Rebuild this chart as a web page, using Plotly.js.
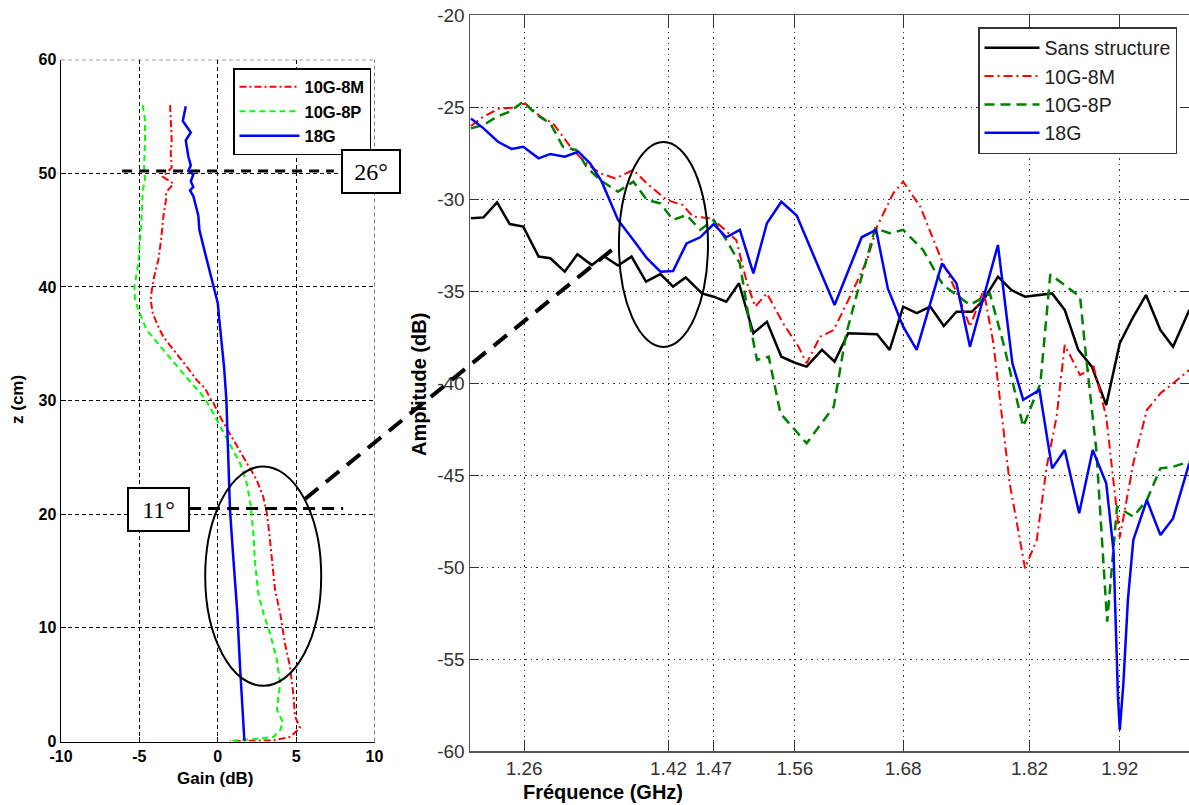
<!DOCTYPE html>
<html>
<head>
<meta charset="utf-8">
<script src="https://cdn.plot.ly/plotly-3.0.1.min.js"></script>
<style>html,body{margin:0;padding:0;background:#fff;}#chart{width:1189px;height:805px;}</style>
</head>
<body>
<div id="chart"></div>
<script>
// ---------- Left panel: z (cm) vs Gain (dB) ----------
const leftGain_8M = [-3.04,-3.0,-2.94,-3.0,-2.94,-3.5,-2.83,-3.3,-3.3,-3.47,-3.62,-3.79,-4.06,-4.21,-4.28,-4.15,-3.89,-3.47,-2.83,-1.98,-1.34,-0.81,-0.49,-0.28,0.26,1.0,1.85,2.49,2.91,3.13,3.29,3.45,3.66,3.98,4.29,4.61,4.82,4.93,5.25,4.61,3.55,1.42,0.78];
const leftZ_8M    = [56.0,54.1,52.9,51.8,50.5,49.7,49.1,48.3,47.7,46.2,44.1,42.4,40.9,39.7,38.9,37.7,36.8,35.6,34.5,33.0,31.8,31.1,30.2,29.8,28.3,26.5,24.5,23.0,21.5,20.1,18.3,16.0,13.3,11.3,8.6,6.6,4.2,2.2,1.2,0.4,0.1,0.05,0.05];
const leftGain_8P = [-4.79,-4.64,-4.64,-4.70,-4.64,-4.79,-4.85,-4.96,-5.07,-5.17,-5.32,-5.28,-5.07,-4.53,-3.68,-2.62,-1.66,-1.13,-0.70,-0.06,0.78,1.42,1.85,2.11,2.27,2.38,2.59,2.91,3.34,3.77,3.98,3.77,4.15,3.98,3.55,2.27,0.78];
const leftZ_8P    = [56.0,54.7,52.9,50.6,49.4,48.5,46.2,44.1,42.1,41.2,40.0,38.9,38.0,36.2,34.8,33.0,31.5,30.7,29.9,28.3,26.2,24.5,22.7,20.7,18.3,15.7,13.0,11.3,9.5,7.2,5.1,2.8,1.7,1.0,0.4,0.2,0.05];
const leftGain_18G = [-2.04,-2.23,-1.72,-2.04,-1.88,-1.72,-1.88,-1.56,-1.72,-1.56,-1.77,-1.56,-1.24,-1.17,-0.81,-0.49,-0.17,0,0.10,0.26,0.40,0.55,0.64,0.68,0.78,1.0,1.25,1.42,1.64,1.70];
const leftZ_18G    = [55.9,54.6,53.6,52.9,51.5,50.7,50.2,49.9,49.3,48.8,48.5,48.0,46.3,45.0,43.0,41.2,39.5,38.6,37.1,34.8,33.0,30.1,26.5,23.0,20.4,16.0,11.3,6.6,1.9,0.07];

// ---------- Right panel: Amplitude (dB) vs Fréquence (GHz) ----------
const freq_sans = [1.201,1.215,1.230,1.244,1.259,1.276,1.289,1.305,1.319,1.335,1.348,1.364,1.379,1.395,1.411,1.425,1.439,1.457,1.470,1.484,1.498,1.514,1.529,1.545,1.560,1.573,1.590,1.604,1.619,1.651,1.665,1.680,1.695,1.710,1.725,1.739,1.756,1.769,1.785,1.800,1.815,1.828,1.845,1.859,1.874,1.889,1.905,1.920,1.935,1.949,1.965,1.979,1.997];
const amp_sans  = [-31.05,-31.0,-30.18,-31.36,-31.5,-33.13,-33.22,-33.95,-33.0,-33.59,-33.10,-33.62,-33.13,-34.49,-34.08,-34.76,-34.26,-35.13,-35.31,-35.58,-34.58,-37.3,-36.67,-38.57,-38.9,-39.11,-38.2,-38.84,-37.3,-37.35,-38.2,-35.85,-36.2,-35.85,-36.9,-36.13,-36.13,-35.49,-34.22,-34.95,-35.31,-35.22,-35.13,-36.03,-38.2,-39.11,-41.2,-37.84,-36.4,-35.22,-37.12,-38.03,-36.03];
const freq_8M = [1.201,1.215,1.233,1.248,1.261,1.278,1.292,1.303,1.314,1.329,1.344,1.361,1.381,1.396,1.418,1.436,1.447,1.468,1.483,1.495,1.507,1.516,1.529,1.547,1.564,1.573,1.588,1.603,1.621,1.640,1.651,1.669,1.680,1.699,1.721,1.743,1.754,1.769,1.780,1.798,1.815,1.828,1.839,1.850,1.859,1.876,1.891,1.905,1.920,1.935,1.950,1.965,1.979,1.997];
const amp_8M  = [-26.03,-25.52,-25.07,-25.04,-24.8,-25.52,-25.89,-26.61,-27.34,-28.06,-28.6,-28.88,-28.42,-29.15,-30.05,-30.33,-30.96,-31.05,-31.68,-32.23,-34.58,-35.85,-35.13,-36.76,-38.03,-38.93,-37.48,-37.12,-35.31,-33.32,-31.5,-29.69,-29.06,-30.42,-33.13,-35.49,-36.94,-34.95,-37.84,-45.45,-50.07,-48.53,-44.55,-41.83,-37.93,-39.57,-39.11,-41.83,-48.4,-44.36,-41.47,-40.56,-40.02,-39.29];
const freq_8P = [1.201,1.215,1.230,1.244,1.259,1.274,1.289,1.303,1.318,1.329,1.344,1.364,1.381,1.396,1.411,1.425,1.440,1.455,1.470,1.484,1.499,1.510,1.518,1.531,1.544,1.573,1.603,1.617,1.632,1.649,1.665,1.680,1.702,1.724,1.754,1.776,1.791,1.813,1.832,1.843,1.876,1.883,1.894,1.906,1.917,1.935,1.950,1.965,1.979,1.997];
const amp_8P  = [-26.16,-25.98,-25.52,-25.25,-24.71,-25.43,-25.89,-27.16,-27.34,-28.24,-28.97,-29.6,-29.06,-30.05,-30.24,-31.14,-30.87,-31.68,-31.14,-32.23,-33.5,-36.76,-38.75,-38.57,-41.65,-43.28,-41.29,-37.3,-34.58,-31.59,-31.86,-31.68,-32.77,-34.67,-35.76,-35.13,-37.84,-42.37,-40.02,-34.1,-35.31,-38.75,-43.64,-52.97,-46.72,-47.27,-46.36,-44.64,-44.55,-44.28];
const freq_18G = [1.201,1.215,1.231,1.246,1.259,1.276,1.289,1.305,1.320,1.333,1.346,1.364,1.381,1.396,1.411,1.425,1.440,1.455,1.470,1.484,1.499,1.514,1.529,1.545,1.562,1.604,1.634,1.650,1.663,1.680,1.695,1.723,1.739,1.754,1.785,1.801,1.813,1.831,1.845,1.859,1.875,1.890,1.905,1.913,1.918,1.920,1.924,1.929,1.935,1.950,1.965,1.979,1.997];
const amp_18G  = [-25.62,-26.16,-26.89,-27.28,-27.16,-27.79,-27.55,-27.70,-27.43,-28.06,-29.06,-31.14,-32.23,-33.22,-33.95,-33.91,-32.41,-32.08,-31.36,-32.08,-31.68,-34.04,-31.32,-30.15,-30.9,-35.76,-32.08,-31.68,-34.86,-36.94,-38.2,-33.5,-34.58,-38.03,-32.5,-38.93,-40.92,-40.38,-44.64,-43.64,-47.08,-43.64,-45.45,-49.08,-57.05,-58.86,-56.32,-51.79,-48.53,-46.36,-48.26,-47.36,-44.36];

const freqTicks = [1.26, 1.42, 1.47, 1.56, 1.68, 1.82, 1.92];
const freqTickText = ['1.26', '1.42', '1.47', '1.56', '1.68', '1.82', '1.92'];
const ampTicks = [-60, -55, -50, -45, -40, -35, -30, -25, -20];
const gainTicks = [-10, -5, 0, 5, 10];
const zTicks = [0, 10, 20, 30, 40, 50, 60];

const W = 1189, H = 805;
const px = v => v / W;
const py = v => 1 - v / H;

const traces = [
  {x: leftGain_8M, y: leftZ_8M, name: '10G-8M', xaxis: 'x', yaxis: 'y', mode: 'lines', legend: 'legend',
   line: {color: '#ff0000', width: 2, dash: '7px,3px,2px,3px'}},
  {x: leftGain_8P, y: leftZ_8P, name: '10G-8P', xaxis: 'x', yaxis: 'y', mode: 'lines', legend: 'legend',
   line: {color: '#00ff00', width: 2, dash: '6px,4px'}},
  {x: leftGain_18G, y: leftZ_18G, name: '18G', xaxis: 'x', yaxis: 'y', mode: 'lines', legend: 'legend',
   line: {color: '#0000ff', width: 2.5}},
  {x: freq_sans, y: amp_sans, name: 'Sans structure', xaxis: 'x2', yaxis: 'y2', mode: 'lines', legend: 'legend2',
   line: {color: '#000000', width: 2.5}},
  {x: freq_8M, y: amp_8M, name: '10G-8M', xaxis: 'x2', yaxis: 'y2', mode: 'lines', legend: 'legend2',
   line: {color: '#ff0000', width: 2, dash: '9px,4px,2px,4px'}},
  {x: freq_8P, y: amp_8P, name: '10G-8P', xaxis: 'x2', yaxis: 'y2', mode: 'lines', legend: 'legend2',
   line: {color: '#008000', width: 2.5, dash: '10px,6px'}},
  {x: freq_18G, y: amp_18G, name: '18G', xaxis: 'x2', yaxis: 'y2', mode: 'lines', legend: 'legend2',
   line: {color: '#0000ff', width: 2.5}}
];

const FONT = 'Liberation Sans, Arial, sans-serif';

const layout = {
  width: W, height: H,
  margin: {l: 0, r: 0, t: 0, b: 0},
  paper_bgcolor: '#ffffff', plot_bgcolor: '#ffffff',
  font: {family: FONT, color: '#000'},
  showlegend: true,
  xaxis: {
    domain: [px(61), px(374.5)], range: [-10, 10], anchor: 'y',
    tickvals: gainTicks, ticktext: gainTicks.map(String),
    tickfont: {size: 16, weight: 'bold', color: '#000'},
    showline: true, linecolor: '#000', linewidth: 1.5,
    ticks: 'inside', ticklen: 5, tickcolor: '#000',
    showgrid: true, gridcolor: '#000', gridwidth: 1, griddash: '4px,3px',
    zeroline: false
  },
  yaxis: {
    domain: [py(741.5), py(59.7)], range: [0, 60], anchor: 'x',
    tickvals: zTicks, ticktext: zTicks.map(String),
    tickfont: {size: 16, weight: 'bold', color: '#000'},
    showline: true, linecolor: '#000', linewidth: 1.5,
    ticks: 'inside', ticklen: 5, tickcolor: '#000',
    showgrid: true, gridcolor: '#000', gridwidth: 1, griddash: '4px,3px',
    zeroline: false
  },
  xaxis2: {
    domain: [px(470), 1], range: [1.2, 1.9967], anchor: 'y2',
    tickvals: freqTicks, ticktext: freqTickText,
    tickfont: {size: 19, color: '#333'},
    showline: true, mirror: 'ticks', linecolor: '#555', linewidth: 1.5,
    ticks: 'inside', ticklen: 11, tickcolor: '#333',
    showgrid: true, gridcolor: '#333', gridwidth: 1, griddash: '1.5px,4px',
    zeroline: false
  },
  yaxis2: {
    domain: [py(751), py(15)], range: [-60, -20], anchor: 'x2',
    tickvals: ampTicks, ticktext: ampTicks.map(String),
    tickfont: {size: 19, color: '#333'},
    showline: true, mirror: 'ticks', linecolor: '#555', linewidth: 1.5,
    ticks: 'inside', ticklen: 9, tickcolor: '#333',
    showgrid: true, gridcolor: '#333', gridwidth: 1, griddash: '1.5px,4px',
    zeroline: false
  },
  legend: {
    x: px(233), y: py(68), xanchor: 'left', yanchor: 'top',
    bgcolor: '#ffffff', bordercolor: '#000', borderwidth: 1.5,
    font: {size: 16.5, weight: 'bold', family: FONT, color: '#000'},
    tracegroupgap: 0, itemwidth: 60
  },
  legend2: {
    x: px(978), y: py(27), xanchor: 'left', yanchor: 'top',
    bgcolor: '#ffffff', bordercolor: '#333', borderwidth: 1.5,
    font: {size: 19.5, family: FONT, color: '#222'},
    tracegroupgap: 0, itemwidth: 55
  },
  shapes: [
    // dashed top and right borders of the left panel
    {type: 'line', xref: 'x', yref: 'y', x0: -10, x1: 10, y0: 60, y1: 60,
     line: {color: '#000', width: 1, dash: '4px,3px'}},
    {type: 'line', xref: 'x', yref: 'y', x0: 10, x1: 10, y0: 0, y1: 60,
     line: {color: '#000', width: 1, dash: '4px,3px'}},
    // ellipse on left panel
    {type: 'circle', xref: 'x', yref: 'y', x0: -0.8, x1: 6.6, y0: 4.9, y1: 24.2,
     line: {color: '#000', width: 2}},
    // ellipse on right panel
    {type: 'circle', xref: 'x2', yref: 'y2', x0: 1.365, x1: 1.4637, y0: -38.04, y1: -26.9,
     line: {color: '#000', width: 2}},
    // 26° dashed marker line
    {type: 'line', xref: 'x', yref: 'y', x0: -6.1, x1: 7.4, y0: 50.2, y1: 50.2,
     line: {color: '#000', width: 3, dash: '10px,7px'}},
    // 11° dashed marker line
    {type: 'line', xref: 'x', yref: 'y', x0: -1.83, x1: 8.0, y0: 20.5, y1: 20.5,
     line: {color: '#000', width: 3, dash: '12px,7px'}},
    // connector between the two ellipses
    {type: 'line', xref: 'paper', yref: 'paper', x0: px(305), y0: py(499), x1: px(613), y1: py(249),
     line: {color: '#000', width: 4, dash: '17px,10px'}}
  ],
  annotations: [
    {text: '26°', xref: 'paper', yref: 'paper', x: px(371), y: py(171.5), xanchor: 'center', yanchor: 'middle',
     showarrow: false, font: {family: 'Liberation Serif, Times New Roman, serif', size: 24, color: '#000'},
     bgcolor: '#fff', bordercolor: '#000', borderwidth: 2, borderpad: 2, width: 52, height: 37},
    {text: '11°', xref: 'paper', yref: 'paper', x: px(158.5), y: py(509.5), xanchor: 'center', yanchor: 'middle',
     showarrow: false, font: {family: 'Liberation Serif, Times New Roman, serif', size: 24, color: '#000'},
     bgcolor: '#fff', bordercolor: '#000', borderwidth: 2, borderpad: 2, width: 55, height: 37},
    {text: 'Gain (dB)', xref: 'paper', yref: 'paper', x: px(215), y: py(778), xanchor: 'center', yanchor: 'middle',
     showarrow: false, font: {size: 17, weight: 'bold', color: '#000'}},
    {text: 'z (cm)', xref: 'paper', yref: 'paper', x: px(17), y: py(400), xanchor: 'center', yanchor: 'middle',
     textangle: -90, showarrow: false, font: {size: 17, weight: 'bold', color: '#000'}},
    {text: 'Fréquence (GHz)', xref: 'paper', yref: 'paper', x: px(603), y: py(792), xanchor: 'center', yanchor: 'middle',
     showarrow: false, font: {size: 20, weight: 'bold', color: '#000'}},
    {text: 'Amplitude (dB)', xref: 'paper', yref: 'paper', x: px(419), y: py(385), xanchor: 'center', yanchor: 'middle',
     textangle: -90, showarrow: false, font: {size: 20, weight: 'bold', color: '#000'}}
  ]
};

Plotly.newPlot('chart', traces, layout, {displayModeBar: false, staticPlot: true});
</script>
</body>
</html>
